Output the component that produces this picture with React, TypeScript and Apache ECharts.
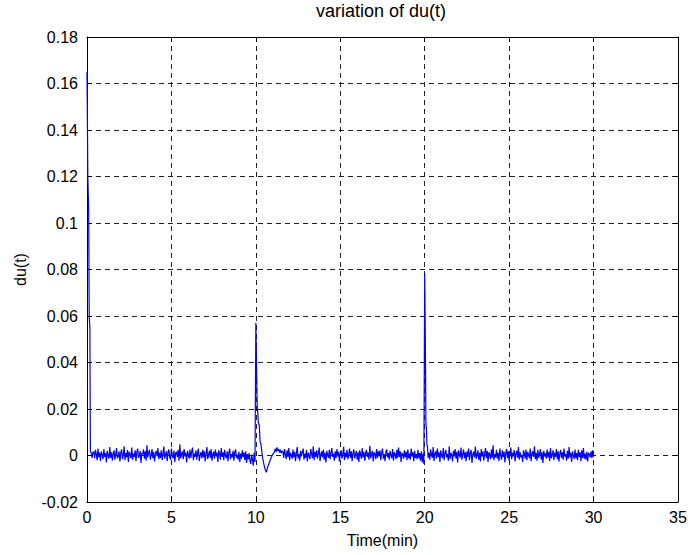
import React, { useEffect, useRef } from "react";
import * as echarts from "echarts";

// Chart texts
const titleText = "variation of du(t)";
const xName = "Time(min)";
const yName = "du(t)";

// Axis ranges / ticks
const xMin = 0, xMax = 35, xStep = 5;
const yMin = -0.02, yMax = 0.18, yStep = 0.02;

// Transient segments: [time(min), du]
const spike1: [number, number][] = [
  [0, 0.165], [0.05, 0.12], [0.1, 0.105], [0.13, 0.06], [0.17, 0.055], [0.2, 0.002],
  [0.25, 0.001], [0.3, -0.001], [0.35, 0.0015],
];
const spike2: [number, number][] = [
  [10.0, 0.0571], [10.03, 0.045], [10.05, 0.034], [10.08, 0.021], [10.12, 0.018],
  [10.15, 0.014], [10.2, 0.013], [10.25, 0.006], [10.3, 0.005], [10.38, 0.0],
  [10.45, -0.003], [10.55, -0.006], [10.62, -0.0072], [10.7, -0.005], [10.8, -0.003],
  [10.9, -0.001], [11.0, 0.0005], [11.1, 0.0015], [11.15, 0.003], [11.2, 0.0015],
  [11.25, 0.0035], [11.3, 0.002], [11.35, 0.0028], [11.4, 0.0012], [11.45, 0.0025],
  [11.5, 0.001], [11.55, 0.0018],
];
const spike3: [number, number][] = [
  [20.0, 0.0784], [20.03, 0.055], [20.05, 0.0367], [20.07, 0.0139], [20.1, 0.012],
  [20.13, 0.005], [20.17, 0.0035], [20.2, -0.001],
];

// Noisy steady-state segments (units of 2e-4), sampled every 0.05 min
const noiseUnit = 2e-4;
const noiseStep = 0.05;
const noise1Start = 0.4;
const noise1 = [
  8, -6, 12, 3, -10, 15, -4, 6, -12, 9, 2, -8, 14, -3, 5, -15,
  10, 0, -7, 18, -5, 7, -11, 4, 11, -9, 3, 16, -6, -2, 9, -13,
  6, 13, -8, 1, 20, -10, 5, -4, 12, -14, 8, 2, -6, 17, -9, 4,
  -3, 11, -12, 7, 15, -5, -1, 10, -16, 6, 3, 13, -7, 9, -11, 22,
  -4, 5, 12, -9, 0, 14, -6, 8, -13, 3, 10, -2, 16, -8, 6, -5,
  11, -10, 4, 19, -7, 2, 9, -12, 7, 13, -4, -9, 15, 1, -6, 10,
  -14, 5, 8, -3, 12, -11, 24, -6, 3, 9, -8, 14, -2, 6, -15, 10,
  2, -7, 13, -5, 8, 17, -10, 4, -3, 11, -9, 6, 15, -12, 1, 7,
  -6, 12, -4, 9, -13, 5, 18, -8, 2, 10, -5, 14, -11, 3, 8, -7,
  13, -2, 6, -14, 11, 4, -9, 16, -3, 7, -10, 12, 0, -6, 9, -12,
  5, 15, -8, 3, -4, 10, -11, 7, 13, -5, 2, -9, 8, -14, 4, -7,
  11, -3, 6, -10, 9, -16, 3, -8, 5, -12, -18, 2, -9, -22, 6, -14,
];
const noise2Start = 11.6;
const noise2 = [
  9, -5, 14, 2, -8, 11, -3, 16, -10, 6, 1, -7, 13, -4, 8, -12,
  5, 18, -6, 3, -11, 10, -2, 7, 15, -9, 4, -5, 12, -13, 6, 0,
  -8, 14, 3, -6, 20, -10, 8, -3, 11, -7, 5, 17, -12, 2, 9, -4,
  13, -9, 6, -15, 10, 1, -5, 12, -8, 7, 16, -3, 4, -11, 9, -6,
  14, -2, 8, -13, 5, 11, -7, 3, 19, -10, 6, -4, 12, -8, 2, 15,
  -5, 9, -12, 4, 13, -6, 1, 10, -9, 7, -14, 11, 3, -7, 16, -4,
  8, -11, 5, 12, -3, 6, -9, 21, -6, 2, 10, -13, 7, 4, -8, 14,
  -5, 9, -2, 11, -10, 6, 15, -7, 3, -12, 8, 13, -4, 5, -9, 10,
  1, -6, 14, -11, 7, 3, -8, 12, -5, 17, -3, 9, -14, 6, 2, -7,
  11, -4, 8, -10, 13, -6, 4, -9, 15, -2, 7, -12, 10, -5, 3, -8,
  12, -6, 5, -11, 9, -15, 4, -18,
];
const noise3Start = 20.25;
const noise3 = [
  6, -9, 13, 2, -5, 18, -12, 4, 9, -7, 15, -3, 7, -14, 11, 0,
  -6, 16, -10, 5, 12, -4, 3, -11, 20, -8, 6, 1, -13, 10, -2, 14,
  -7, 8, -15, 11, 4, -5, 17, -9, 2, 13, -6, 7, -12, 9, -3, 15,
  -10, 5, 12, -16, 3, 8, -4, 19, -7, 1, 11, -9, 6, -13, 14, -2,
  9, -11, 4, 16, -6, 10, -14, 7, 2, -8, 13, -5, 22, -10, 3, -4,
  12, -7, 6, -12, 15, 0, -9, 11, -3, 8, -15, 5, 14, -6, 9, -11,
  3, 17, -8, 6, -2, 12, -13, 4, 10, -5, 18, -9, 7, -4, 1, -14,
  11, 5, -7, 13, -10, 8, 2, -6, 15, -12, 4, 9, -3, 20, -8, 6,
  -11, 12, -5, 3, 14, -9, 7, -16, 10, -2, 5, -7, 13, -4, 8, -12,
  16, -6, 2, 11, -10, 6, -3, 14, -8, 9, -13, 4, 12, -5, 7, -9,
  15, -2, 3, -11, 10, -7, 18, -4, 6, -14, 9, 1, -8, 13, -6, 5,
  -10, 12, -3, 7, -12, 11, -5, 16, -7, 4, -9, 8, -13, 6, 2, -4,
  9, -6, 11, -3,
];

const toPairs = (start: number, vals: number[]): [number, number][] =>
  vals.map((v, i) => [+(start + i * noiseStep).toFixed(2), v * noiseUnit]);

const seriesData: [number, number][] = [
  ...spike1,
  ...toPairs(noise1Start, noise1),
  ...spike2,
  ...toPairs(noise2Start, noise2),
  ...spike3,
  ...toPairs(noise3Start, noise3),
];

const FONT = "'Liberation Sans', Arial, Helvetica, sans-serif";
const gridLine = { show: true, lineStyle: { color: "#222", width: 1, type: [5, 4] as any } };
const boxLine = { show: true, onZero: false, lineStyle: { color: "#000", width: 1 } };
const tick = { show: true, inside: true, length: 5, lineStyle: { color: "#000" } };

export default function App() {
  const ref = useRef<HTMLDivElement>(null);
  useEffect(() => {
    if (!ref.current) return;
    const chart = echarts.init(ref.current, undefined, { renderer: "svg" });
    chart.setOption({
      animation: false,
      backgroundColor: "#fff",
      title: {
        text: titleText,
        left: 381,
        top: 2,
        padding: 0,
        textAlign: "center",
        textStyle: { fontFamily: FONT, fontSize: 18, fontWeight: "normal", color: "#000" },
      },
      grid: { left: 87, right: 12, top: 37, bottom: 53 },
      xAxis: [
        {
          type: "value", min: xMin, max: xMax, interval: xStep, position: "bottom",
          name: xName, nameLocation: "middle", nameGap: 30,
          nameTextStyle: { fontFamily: FONT, fontSize: 16, color: "#000" },
          axisLine: boxLine, axisTick: tick, splitLine: gridLine,
          axisLabel: { fontFamily: FONT, fontSize: 16, color: "#000", margin: 7 },
        },
        {
          type: "value", min: xMin, max: xMax, interval: xStep, position: "top",
          axisLine: boxLine, axisTick: tick, splitLine: { show: false },
          axisLabel: { show: false },
        },
      ],
      yAxis: [
        {
          type: "value", min: yMin, max: yMax, interval: yStep, position: "left",
          name: yName, nameLocation: "middle", nameGap: 59,
          nameTextStyle: { fontFamily: FONT, fontSize: 16, color: "#000" },
          axisLine: boxLine, axisTick: tick, splitLine: gridLine,
          axisLabel: { fontFamily: FONT, fontSize: 16, color: "#000", margin: 9 },
        },
        {
          type: "value", min: yMin, max: yMax, interval: yStep, position: "right",
          axisLine: boxLine, axisTick: tick, splitLine: { show: false },
          axisLabel: { show: false },
        },
      ],
      series: [
        {
          type: "line",
          data: seriesData,
          xAxisIndex: 0,
          yAxisIndex: 0,
          showSymbol: false,
          symbol: "none",
          lineStyle: { color: "#0000ff", width: 1.2 },
          z: 5,
        },
      ],
    });
    return () => chart.dispose();
  }, []);
  return (
    <div
      ref={ref}
      style={{ position: "fixed", left: 0, top: 0, width: 690, height: 555, background: "#fff" }}
    />
  );
}
